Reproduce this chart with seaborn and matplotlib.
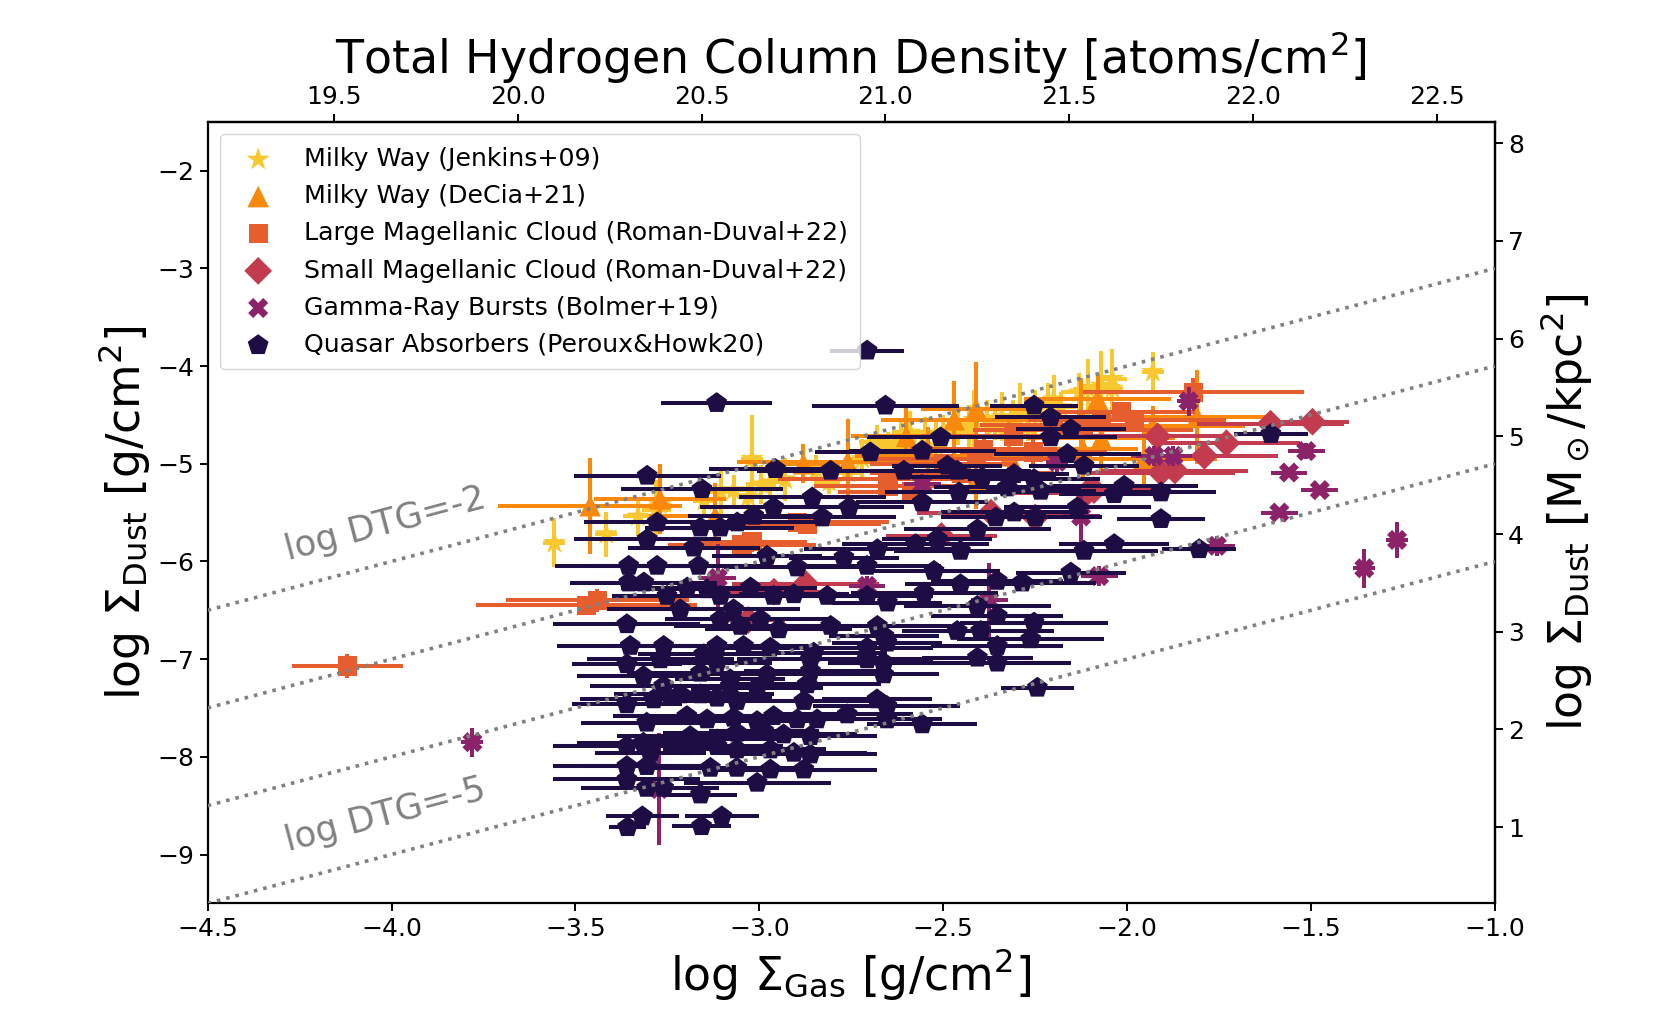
import numpy as np
import pandas as pd
import matplotlib
matplotlib.use("Agg")
import matplotlib.pyplot as plt
from matplotlib.ticker import MultipleLocator
import seaborn as sns

# ---------------- data (log Sigma_gas, log Sigma_dust in g/cm^2) ----------------
# Milky Way (Jenkins+09)
mwj_x = [-3.557, -3.416, -3.33, -3.28, -3.27, -3.15, -3.105, -3.07, -3.03, -3.02, -2.995,
         -2.97, -2.93, -2.845, -2.81, -2.76, -2.72, -2.68, -2.65, -2.62, -2.615, -2.59,
         -2.625, -2.55, -2.52, -2.50, -2.46, -2.43, -2.416, -2.38, -2.36, -2.34, -2.31,
         -2.29, -2.27, -2.25, -2.214, -2.20, -2.18, -2.13, -2.107, -2.07, -2.04, -2.04, -1.93]
mwj_y = [-5.81, -5.72, -5.54, -5.47, -5.42, -5.38, -5.29, -5.27, -5.34, -4.95, -5.21,
         -5.19, -5.16, -5.06, -5.19, -5.09, -4.95, -4.78, -4.83, -4.95, -4.78, -4.68,
         -4.92, -4.72, -4.82, -4.68, -4.61, -4.65, -4.55, -4.55, -4.61, -4.52, -4.55,
         -4.47, -4.62, -4.50, -4.37, -4.34, -4.42, -4.27, -4.23, -4.20, -4.23, -4.13, -4.06]
mwj_xerr = [0.03, 0.03, 0.04, 0.04, 0.03, 0.03, 0.04, 0.03, 0.03, 0.03, 0.04,
            0.03, 0.04, 0.05, 0.03, 0.04, 0.03, 0.05, 0.04, 0.03, 0.04, 0.05,
            0.03, 0.04, 0.03, 0.05, 0.04, 0.03, 0.05, 0.04, 0.03, 0.05, 0.04,
            0.03, 0.04, 0.05, 0.04, 0.03, 0.04, 0.05, 0.04, 0.05, 0.03, 0.04, 0.03]
mwj_yerr = [0.25, 0.23, 0.20, 0.30, 0.20, 0.15, 0.25, 0.15, 0.15, 0.45, 0.20,
            0.15, 0.22, 0.15, 0.12, 0.15, 0.20, 0.18, 0.15, 0.20, 0.25, 0.22,
            0.15, 0.20, 0.25, 0.18, 0.20, 0.25, 0.30, 0.20, 0.15, 0.25, 0.20,
            0.30, 0.15, 0.25, 0.20, 0.25, 0.15, 0.20, 0.30, 0.35, 0.25, 0.30, 0.20]

# Milky Way (DeCia+21)
mwd_x = [-3.46, -3.27, -3.12, -2.88, -2.76, -2.60, -2.54, -2.47, -2.41, -2.41, -2.32,
         -2.125, -2.12, -2.08, -2.07, -1.955, -1.93, -1.81]
mwd_y = [-5.43, -5.36, -5.54, -5.00, -4.98, -4.72, -4.92, -4.55, -4.44, -5.16, -4.92,
         -4.52, -4.85, -4.34, -4.74, -4.95, -4.61, -4.52]
mwd_xerr = [0.25, 0.18, 0.18, 0.10, 0.30, 0.15, 0.20, 0.20, 0.15, 0.20, 0.15,
            0.20, 0.15, 0.20, 0.20, 0.20, 0.25, 0.20]
mwd_yerr = [0.49, 0.36, 0.34, 0.20, 0.44, 0.30, 0.30, 0.40, 0.48, 0.30, 0.35,
            0.40, 0.30, 0.25, 0.35, 0.30, 0.20, 0.48]

# Large Magellanic Cloud (Roman-Duval+22)
lmc_x = [-4.12, -3.47, -3.44, -3.047, -3.02, -2.897, -2.87, -2.65, -2.65, -2.586, -2.50,
         -2.45, -2.41, -2.39, -2.31, -2.255, -2.20, -2.12, -2.07, -2.015, -1.98, -1.82]
lmc_y = [-7.07, -6.45, -6.40, -5.83, -5.80, -5.60, -5.62, -5.16, -5.23, -5.29, -5.00,
         -5.10, -4.95, -4.85, -4.72, -4.88, -4.60, -4.65, -4.55, -4.47, -4.55, -4.27]
lmc_xerr = [0.15, 0.30, 0.25, 0.20, 0.15, 0.25, 0.20, 0.30, 0.20, 0.20, 0.20,
            0.25, 0.30, 0.20, 0.25, 0.20, 0.20, 0.30, 0.20, 0.20, 0.25, 0.30]
lmc_yerr = [0.12, 0.10, 0.12, 0.10, 0.10, 0.10, 0.10, 0.10, 0.10, 0.10, 0.10,
            0.10, 0.15, 0.15, 0.10, 0.15, 0.10, 0.10, 0.10, 0.10, 0.10, 0.15]

# Small Magellanic Cloud (Roman-Duval+22)
smc_x = [-3.03, -2.96, -2.874, -2.505, -2.37, -2.25, -2.11, -2.09, -1.917, -1.908,
         -1.87, -1.79, -1.73, -1.61, -1.496]
smc_y = [-6.60, -6.31, -6.23, -5.74, -5.50, -5.55, -5.30, -5.27, -4.72, -5.09,
         -5.07, -4.92, -4.79, -4.59, -4.57]
smc_xerr = [0.10, 0.15, 0.20, 0.15, 0.20, 0.15, 0.20, 0.20, 0.20, 0.20,
            0.20, 0.20, 0.20, 0.20, 0.10]
smc_yerr = [0.10, 0.10, 0.08, 0.10, 0.10, 0.10, 0.10, 0.10, 0.10, 0.10,
            0.10, 0.10, 0.10, 0.10, 0.10]

# Gamma-Ray Bursts (Bolmer+19)
grb_x = [-3.78, -3.272, -3.113, -2.707, -2.557, -2.375, -2.19, -2.125, -2.076, -1.926,
         -1.874, -1.833, -1.756, -1.586, -1.56, -1.513, -1.476, -1.355, -1.266]
grb_y = [-7.85, -8.33, -6.17, -6.25, -5.21, -6.40, -4.98, -5.54, -6.15, -4.92,
         -4.92, -4.36, -5.84, -5.50, -5.09, -4.87, -5.27, -6.07, -5.78]
grb_xerr = [0.03, 0.03, 0.05, 0.05, 0.05, 0.05, 0.03, 0.05, 0.05, 0.05,
            0.05, 0.03, 0.05, 0.05, 0.05, 0.05, 0.05, 0.03, 0.03]
grb_yerr = [0.15, 0.57, 0.35, 0.10, 0.10, 0.38, 0.10, 0.27, 0.10, 0.10,
            0.10, 0.15, 0.10, 0.05, 0.05, 0.08, 0.05, 0.20, 0.18]

# Quasar Absorbers (Peroux & Howk 20)
qso_x = [
    -2.707, -3.116, -2.657, -2.253, -2.208, -2.507, -2.153, -2.208, -2.557, -2.698,
    -2.162, -2.489, -2.806, -2.607, -2.462, -2.117, -2.394, -2.307, -2.253, -2.326,
    -2.235, -2.008, -1.609, -1.908, -1.908, -1.804,
    -3.305, -3.156, -2.956, -2.856, -3.278, -3.16, -3.106, -3.06, -3.015, -2.961,
    -3.305, -3.178, -2.979, -2.897,
    -3.355, -3.278, -3.165, -3.355, -3.314, -3.196, -3.142, -3.251, -3.106, -3.024,
    -2.961, -2.906, -3.215, -3.07, -2.997, -3.106, -3.36, -3.051, -2.947,
    -2.756, -2.829, -2.557, -2.457, -2.357, -2.307, -2.249, -2.135, -2.035, -2.407,
    -2.516, -2.575, -2.453, -2.679, -2.77, -2.707, -2.525, -2.035, -2.117, -2.153,
    -2.353, -2.285, -2.453, -2.552, -2.707, -2.815, -2.652, -2.407, -2.353, -2.253,
    -2.462, -2.398, -2.806, -2.679, -2.661, -2.262, -2.353, -2.407, -2.353, -2.244,
    -3.351, -3.26, -3.115, -3.043, -2.97, -2.852, -2.707, -2.653,
    -3.36, -3.269, -3.151, -3.115, -2.861, -2.707, -2.662,
    -3.315, -3.16, -3.079, -2.979, -2.861, -2.662,
    -3.26, -3.079, -3.006, -2.87,
    -3.36, -3.287, -3.215, -3.16, -3.115, -3.061, -2.879, -2.68, -2.653,
    -3.306, -3.197, -3.142, -3.07, -3.006, -2.961, -2.897, -2.843, -2.761, -2.653, -2.557,
    -3.188, -3.115, -3.061, -2.988, -2.934, -2.861,
    -3.36, -3.315, -3.296, -3.197, -3.115, -3.061, -2.97, -2.906, -2.861,
    -3.36, -3.306, -3.133, -3.061, -2.97, -2.879,
    -3.36, -3.306, -3.26, -3.006,
    -3.16, -3.358, -3.318, -3.157, -3.102]
qso_y = [
    -3.842, -4.379, -4.405, -4.405, -4.525, -4.73, -4.645, -4.73, -4.867, -4.884,
    -4.901, -5.02, -5.072, -5.072, -5.072, -5.02, -5.14, -5.106, -5.157, -5.243,
    -5.277, -5.226, -4.696, -5.294, -5.567, -5.875,
    -5.123, -5.26, -5.055, -5.345, -5.601, -5.653, -5.653, -5.601, -5.533, -5.447,
    -5.772, -5.858, -5.943, -6.062,
    -6.045, -6.045, -6.045, -6.216, -6.216, -6.267, -6.285, -6.353, -6.353, -6.267,
    -6.353, -6.336, -6.49, -6.49, -6.592, -6.592, -6.643, -6.66, -6.695,
    -5.447, -5.55, -5.396, -5.294, -5.55, -5.499, -5.55, -5.447, -5.311, -5.67,
    -5.77, -5.823, -5.892, -5.875, -5.96, -6.045, -6.097, -5.823, -5.892, -6.114,
    -6.199, -6.216, -6.233, -6.319, -6.353, -6.353, -6.421, -6.455, -6.558, -6.626,
    -6.712, -6.712, -6.66, -6.66, -6.763, -6.797, -6.866, -6.985, -7.036, -7.293,
    -6.865, -6.865, -6.865, -6.865, -6.882, -6.934, -6.882, -6.831,
    -7.053, -7.002, -6.951, -7.036, -7.002, -7.002, -7.036,
    -7.173, -7.139, -7.207, -7.156, -7.122, -7.156,
    -7.275, -7.275, -7.292, -7.258,
    -7.463, -7.412, -7.361, -7.361, -7.395, -7.429, -7.429, -7.412, -7.48,
    -7.651, -7.583, -7.617, -7.60, -7.634, -7.583, -7.617, -7.617, -7.566, -7.617, -7.668,
    -7.788, -7.822, -7.754, -7.737, -7.771, -7.788,
    -7.891, -7.856, -7.959, -7.891, -7.891, -7.925, -7.925, -7.959, -7.976,
    -8.095, -8.095, -8.113, -8.113, -8.13, -8.13,
    -8.232, -8.318, -8.318, -8.266,
    -8.386, -8.72, -8.61, -8.71, -8.61]
qso_xerr = [
    0.10, 0.15, 0.20, 0.12, 0.15, 0.20, 0.15, 0.18, 0.20, 0.15,
    0.20, 0.15, 0.20, 0.18, 0.20, 0.15, 0.20, 0.15, 0.18, 0.20,
    0.15, 0.20, 0.10, 0.15, 0.12, 0.10,
    0.20, 0.22, 0.18, 0.20, 0.20, 0.15, 0.20, 0.22, 0.18, 0.20,
    0.20, 0.18, 0.15, 0.20,
    0.20, 0.18, 0.20, 0.15, 0.20, 0.18, 0.20, 0.15, 0.22, 0.18,
    0.20, 0.15, 0.20, 0.18, 0.20, 0.15, 0.20, 0.18, 0.20,
    0.15, 0.20, 0.18, 0.20, 0.15, 0.20, 0.18, 0.20, 0.15, 0.20,
    0.15, 0.20, 0.18, 0.20, 0.15, 0.20, 0.18, 0.15, 0.20, 0.15,
    0.18, 0.20, 0.15, 0.20, 0.18, 0.20, 0.15, 0.20, 0.18, 0.20,
    0.15, 0.20, 0.18, 0.20, 0.15, 0.20, 0.18, 0.15, 0.20, 0.10,
    0.20, 0.15, 0.18, 0.20, 0.15, 0.20, 0.18, 0.15,
    0.15, 0.20, 0.18, 0.15, 0.20, 0.18, 0.15,
    0.18, 0.20, 0.15, 0.20, 0.18, 0.15,
    0.20, 0.15, 0.18, 0.20,
    0.15, 0.20, 0.18, 0.20, 0.15, 0.20, 0.18, 0.15, 0.20,
    0.18, 0.20, 0.15, 0.20, 0.18, 0.20, 0.15, 0.20, 0.18, 0.15, 0.15,
    0.20, 0.18, 0.20, 0.15, 0.20, 0.18,
    0.20, 0.18, 0.15, 0.20, 0.18, 0.20, 0.15, 0.20, 0.18,
    0.20, 0.18, 0.15, 0.20, 0.18, 0.20,
    0.20, 0.18, 0.15, 0.20,
    0.10, 0.05, 0.10, 0.08, 0.10]

labels = ["Milky Way (Jenkins+09)", "Milky Way (DeCia+21)",
          "Large Magellanic Cloud (Roman-Duval+22)", "Small Magellanic Cloud (Roman-Duval+22)",
          "Gamma-Ray Bursts (Bolmer+19)", "Quasar Absorbers (Peroux&Howk20)"]
dtg_values = [-2, -3, -4, -5]
top_ticks = [19.5, 20.0, 20.5, 21.0, 21.5, 22.0, 22.5]
right_ticks = [1, 2, 3, 4, 5, 6, 7, 8]

NH_OFFSET = 23.657     # log N_H = log Sigma_gas + offset
MSUN_OFFSET = 9.72     # log Sigma [Msun/kpc^2] = log Sigma [g/cm^2] + offset

# ---------------- style ----------------
sns.set_style("ticks")
plt.rcParams.update({
    "font.family": ["DejaVu Sans"],
    "text.color": "black", "axes.labelcolor": "black",
    "axes.edgecolor": "black", "xtick.color": "black", "ytick.color": "black",
    "axes.linewidth": 1.6, "xtick.major.width": 1.4, "ytick.major.width": 1.4,
    "xtick.major.size": 6, "ytick.major.size": 6,
    "xtick.labelsize": 18, "ytick.labelsize": 18,
    "mathtext.fontset": "dejavusans",
})

cmap = matplotlib.colormaps["inferno"]
colors = [cmap(0.87), cmap(0.74), cmap(0.64), cmap(0.52), cmap(0.38), cmap(0.12)]
markers = ["*", "^", "s", "D", "X", "p"]
sizes = [310, 240, 190, 200, 210, 250]

series = [
    (mwj_x, mwj_y, mwj_xerr, mwj_yerr),
    (mwd_x, mwd_y, mwd_xerr, mwd_yerr),
    (lmc_x, lmc_y, lmc_xerr, lmc_yerr),
    (smc_x, smc_y, smc_xerr, smc_yerr),
    (grb_x, grb_y, grb_xerr, grb_yerr),
    (qso_x, qso_y, qso_xerr, None),
]

fig, ax = plt.subplots(figsize=(16.61, 10.15), dpi=100)

for i, (xs, ys, xe, ye) in enumerate(series):
    df = pd.DataFrame({"x": xs, "y": ys})
    ax.errorbar(df["x"], df["y"], xerr=xe, yerr=ye, fmt="none", ecolor=colors[i],
                elinewidth=2.9, capsize=0, zorder=2 + i)
    sns.scatterplot(data=df, x="x", y="y", marker=markers[i], color=colors[i],
                    s=sizes[i], edgecolor="none", linewidth=0, label=labels[i],
                    ax=ax, zorder=2.5 + i)

# dust-to-gas lines
xl = np.array([-4.5, -1.0])
for d in dtg_values:
    ax.plot(xl, xl + d, ls=":", color="gray", lw=2.6, zorder=20)

ax.text(-4.016, -5.62, "log DTG=-2", rotation=45, transform_rotates_text=True,
        rotation_mode="anchor", ha="center", va="center", color="gray", fontsize=25.5, zorder=21)
ax.text(-4.016, -8.60, "log DTG=-5", rotation=45, transform_rotates_text=True,
        rotation_mode="anchor", ha="center", va="center", color="gray", fontsize=25.5, zorder=21)

ax.set_xlim(-4.5, -1.0)
ax.set_ylim(-9.5, -1.5)
ax.xaxis.set_major_locator(MultipleLocator(0.5))
ax.yaxis.set_major_locator(MultipleLocator(1))
ax.set_xlabel(r"log $\Sigma_{\rm Gas}$ [g/cm$^2$]", fontsize=33)
ax.set_ylabel(r"log $\Sigma_{\rm Dust}$ [g/cm$^2$]", fontsize=33)

secx = ax.secondary_xaxis("top", functions=(lambda v: v + NH_OFFSET, lambda v: v - NH_OFFSET))
secx.set_xticks(top_ticks)
secx.tick_params(labelsize=18, width=1.4, length=6)
secx.set_xlabel(r"Total Hydrogen Column Density [atoms/cm$^2$]", fontsize=33, labelpad=8)

secy = ax.secondary_yaxis("right", functions=(lambda v: v + MSUN_OFFSET, lambda v: v - MSUN_OFFSET))
secy.set_yticks(right_ticks)
secy.tick_params(labelsize=18, width=1.4, length=6)
secy.set_ylabel(r"log $\Sigma_{\rm Dust}$ [M$_\odot$/kpc$^2$]", fontsize=33, labelpad=10)

leg = ax.legend(loc="upper left", fontsize=18.2, frameon=True, framealpha=0.8,
                borderpad=0.5, labelspacing=0.52, handletextpad=0.8)
leg.set_zorder(30)

fig.savefig("out.png", dpi=100)
